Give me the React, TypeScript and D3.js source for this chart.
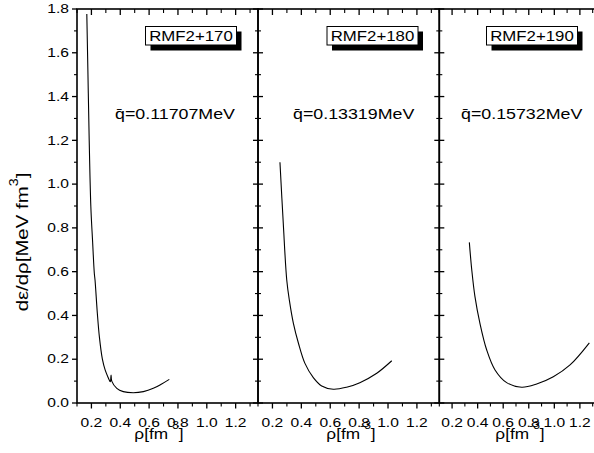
import React from "react";
import * as d3 from "d3";

const panelNames = ["RMF2+170", "RMF2+180", "RMF2+190"];
const qLabels = ["q\u0304=0.11707MeV", "q\u0304=0.13319MeV", "q\u0304=0.15732MeV"];

const rho1 = [0.168, 0.176, 0.184, 0.196, 0.208, 0.22, 0.225, 0.241, 0.255, 0.276, 0.295, 0.315, 0.331, 0.336, 0.341, 0.376, 0.421, 0.49, 0.56, 0.629, 0.687, 0.74];
const val1 = [1.777, 1.5, 1.22, 0.897, 0.74, 0.593, 0.562, 0.41, 0.303, 0.2, 0.151, 0.118, 0.097, 0.128, 0.1, 0.067, 0.052, 0.047, 0.052, 0.067, 0.087, 0.108];

const rho2 = [0.252, 0.275, 0.299, 0.317, 0.345, 0.38, 0.425, 0.483, 0.541, 0.621, 0.713, 0.805, 0.922, 1.026];
const val2 = [1.1, 0.82, 0.562, 0.47, 0.364, 0.273, 0.181, 0.116, 0.078, 0.063, 0.072, 0.093, 0.136, 0.193];

const rho3 = [0.335, 0.354, 0.379, 0.418, 0.471, 0.536, 0.627, 0.745, 0.862, 0.992, 1.123, 1.274];
const val3 = [0.734, 0.608, 0.486, 0.364, 0.242, 0.151, 0.093, 0.072, 0.087, 0.12, 0.174, 0.275];

const xMajor = [0.2, 0.4, 0.6, 0.8, 1.0, 1.2];
const xMinor = [0.1, 0.3, 0.5, 0.7, 0.9, 1.1, 1.3];
const yMajor = [0, 0.2, 0.4, 0.6, 0.8, 1.0, 1.2, 1.4, 1.6, 1.8];
const yMinor = [0.1, 0.3, 0.5, 0.7, 0.9, 1.1, 1.3, 1.5, 1.7];

const W = 594;
const H = 453;
const FONT = "'Liberation Sans', Arial, sans-serif";

const yScale = d3.scaleLinear().domain([0, 1.8]).range([403, 9]);

const panels = [
  { x0: 77, x1: 258, rho: rho1, val: val1, box: 145.5, q: 115, title: 159 },
  { x0: 258, x1: 439.3, rho: rho2, val: val2, box: 327, q: 293, title: 351 },
  { x0: 439.3, x1: 599.7, rho: rho3, val: val3, box: 486.5, q: 461, title: 520 },
];

function T({ x, y, sx = 1, size, anchor = "start", children }: any) {
  return (
    <text
      transform={`translate(${x},${y}) scale(${sx},1)`}
      textAnchor={anchor}
      fontSize={size}
      fontFamily={FONT}
      fill="#000"
    >
      {children}
    </text>
  );
}

function Panel({ p, i }: { p: any; i: number }) {
  const x = d3.scaleLinear().domain([0.1, 1.355]).range([p.x0, p.x1]);
  const pts: [number, number][] = p.rho.map((r: number, k: number) => [r, p.val[k]]);
  const line = d3
    .line<[number, number]>()
    .x((d) => x(d[0]))
    .y((d) => yScale(d[1]))
    .curve(d3.curveCatmullRom.alpha(0.5));
  const yb = yScale(0);
  const yt = yScale(1.8);
  return (
    <g>
      {xMajor.map((t) => (
        <line key={"bM" + t} x1={x(t)} x2={x(t)} y1={yb} y2={yb + 5.5} stroke="#000" strokeWidth={1.3} />
      ))}
      {xMinor.map((t) => (
        <line key={"bm" + t} x1={x(t)} x2={x(t)} y1={yb} y2={yb + 3.5} stroke="#000" strokeWidth={1.1} />
      ))}
      {xMajor.map((t) => (
        <line key={"tM" + t} x1={x(t)} x2={x(t)} y1={yt} y2={yt + 6} stroke="#000" strokeWidth={1.3} />
      ))}
      {xMinor.map((t) => (
        <line key={"tm" + t} x1={x(t)} x2={x(t)} y1={yt} y2={yt + 4} stroke="#000" strokeWidth={1.1} />
      ))}
      {yMajor.map((t) => (
        <line key={"lM" + t} x1={p.x0 - 5} x2={p.x0} y1={yScale(t)} y2={yScale(t)} stroke="#000" strokeWidth={1.3} />
      ))}
      {yMinor.map((t) => (
        <line key={"lm" + t} x1={p.x0 - 3} x2={p.x0} y1={yScale(t)} y2={yScale(t)} stroke="#000" strokeWidth={1.1} />
      ))}
      {yMajor.map((t) => (
        <line key={"rM" + t} x1={p.x1} x2={p.x1 + 5} y1={yScale(t)} y2={yScale(t)} stroke="#000" strokeWidth={1.3} />
      ))}
      {yMinor.map((t) => (
        <line key={"rm" + t} x1={p.x1} x2={p.x1 + 3} y1={yScale(t)} y2={yScale(t)} stroke="#000" strokeWidth={1.1} />
      ))}
      <rect x={p.x0} y={yt} width={p.x1 - p.x0} height={yb - yt} fill="none" stroke="#000" strokeWidth={1.6} />
      {xMajor.map((t) => (
        <T key={"xl" + t} x={x(t)} y={426.5} sx={1.3} size={12} anchor="middle">
          {d3.format(".1f")(t)}
        </T>
      ))}
      {i === 0 &&
        yMajor.map((t) => (
          <T key={"yl" + t} x={69} y={yScale(t) + 4.2} sx={1.3} size={12} anchor="end">
            {d3.format(".1f")(t)}
          </T>
        ))}
      <path d={line(pts) || ""} fill="none" stroke="#000" strokeWidth={1.1} />
      <rect x={p.box + 5} y={31.5} width={91} height={19} fill="#000" />
      <rect x={p.box} y={26.5} width={91} height={18.5} fill="#fff" stroke="#000" strokeWidth={1} />
      <T x={p.box + 45.5} y={41} sx={1.2} size={14} anchor="middle">
        {panelNames[i]}
      </T>
      <T x={p.q} y={118.5} sx={1.15} size={15.5}>
        {qLabels[i]}
      </T>
      <T x={p.title} y={438.5} sx={1.15} size={15} anchor="middle">
        ρ[fm
        <tspan dy={-10} fontSize={10.5}>-3</tspan>
        <tspan dy={10}>]</tspan>
      </T>
    </g>
  );
}

export default function App() {
  return (
    <svg
      width={W}
      height={H}
      viewBox={`0 0 ${W} ${H}`}
      style={{ position: "absolute", left: 0, top: 0, background: "#fff" }}
    >
      <rect x={0} y={0} width={W} height={H} fill="#fff" />
      {panels.map((p, i) => (
        <Panel key={i} p={p} i={i} />
      ))}
      <text transform="translate(27.5,242) rotate(-90) scale(1.2,1)" textAnchor="middle" fontSize={17} fontFamily={FONT}>
        dε/dρ[MeV fm
        <tspan dy={-9.5} fontSize={12}>3</tspan>
        <tspan dy={9.5}>]</tspan>
      </text>
    </svg>
  );
}
